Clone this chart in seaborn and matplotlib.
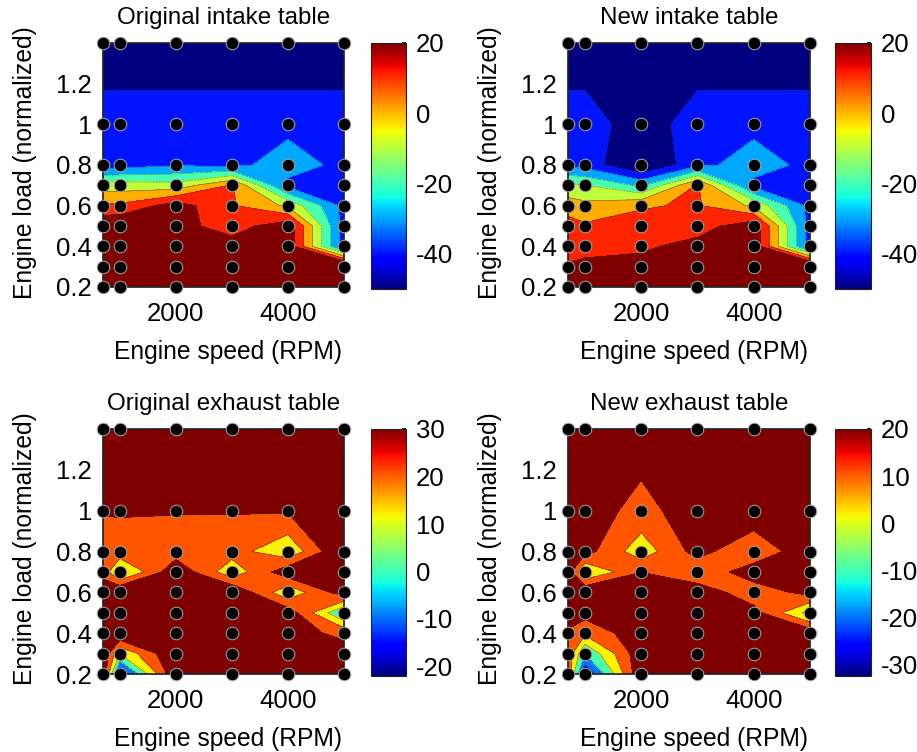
import matplotlib.pyplot as plt
import numpy as np
import pandas as pd
import seaborn as sns
from matplotlib.cm import ScalarMappable
from matplotlib.colors import Normalize

speeds = [700, 1000, 2000, 3000, 4000, 5000]
loads = [1.4, 1.0, 0.8, 0.7, 0.6, 0.5, 0.4, 0.3, 0.2]

# each table reads top row (load 1.4) to bottom row (load 0.2)
intakeOld = [
    [-50, -50, -50, -50, -50, -50],
    [-33, -33, -33, -33, -33, -33],
    [-35, -34.5, -31, -33, -25, -33],
    [-5, -5, -6, 11, -33, -33],
    [11, 12, 25, 11, -2, -33],
    [30, 30, 24, 15, 27, -35],
    [40, 40, 35, 25, 27, -35],
    [40, 40, 40, 40, 40, 40],
    [40, 40, 40, 40, 40, 40],
]
intakeNew = [
    [-50, -50, -50, -50, -50, -50],
    [-33, -33, -48, -33, -33, -33],
    [-33, -34, -52, -33, -25, -33],
    [-7, -10, -22, 11, -33, -33],
    [4.7, 3, 9.2, 11, -2, -33],
    [14.7, 11.4, 13, 15, 27, -35],
    [16, 16, 18, 24, 27, -35],
    [21, 23, 24, 40, 40, 40],
    [40, 40, 40, 40, 40, 40],
]
exhaustOld = [
    [38, 38, 38, 38, 38, 38],
    [30.6, 30.6, 30.6, 30.6, 31, 35],
    [26, 27, 25, 24.3, 12, 41],
    [27, 6, 38, 13, 37, 40],
    [35.6, 42, 40, 40, 12, 36],
    [40, 40, 40, 40, 36, -1],
    [40, 40, 40, 40, 34, 27.5],
    [40, 10.6, 40, 40, 40, 35],
    [40, -19.5, 40, 40, 40, 40],
]
exhaustNew = [
    [30, 30, 25, 30, 30, 30],
    [25, 24.5, 17, 25, 29, 30],
    [30, 24, 4, 24, 10.5, 29],
    [25, -1, 19.5, 11, 27, 30],
    [30, 30, 40, 27, 13, 24],
    [28, 24, 40, 40, 24, -4],
    [18, 12, 27, 40, 40, 27],
    [17, -10, 27.5, 40, 40, 40],
    [18, -31, 29, 40, 40, 40],
]

titles = ["Original intake table", "New intake table", "Original exhaust table", "New exhaust table"]
tables = [intakeOld, intakeNew, exhaustOld, exhaustNew]
levelSets = [
    [-50, -40, -30, -20, -10, 0, 10, 20],
    [-50, -40, -30, -20, -10, 0, 10, 20],
    [-20, -10, 0, 10, 20, 30],
    [-30, -20, -10, 0, 10, 20],
]
colorLimits = [(-50, 20), (-50, 20), (-22, 30), (-32.5, 20)]
# spot on jet for each filled band, picked by eye against the original
intakeBands = [0.0, 0.145, 0.29, 0.435, 0.58, 0.725, 0.87, 1.0]
exhaustBands = [0.05, 0.24, 0.44, 0.655, 0.82, 1.0]
bandSets = [intakeBands, intakeBands, exhaustBands, exhaustBands]
colorTicks = [
    [-40, -20, 0, 20],
    [-40, -20, 0, 20],
    [-20, -10, 0, 10, 20, 30],
    [-30, -20, -10, 0, 10, 20],
]
yTicks = [0.2, 0.4, 0.6, 0.8, 1.0, 1.2]
yTickLabels = ["0.2", "0.4", "0.6", "0.8", "1", "1.2"]
xTicks = [2000, 4000]

FIG_W, FIG_H = 917, 752
# left, top, right, bottom in pixels
axesBoxes = [(103, 43, 344, 287), (568, 43, 810, 287), (103, 429, 344, 674), (568, 429, 810, 674)]
barBoxes = [(371, 43, 406, 289), (835, 43, 871, 289), (371, 429, 406, 676), (835, 429, 871, 676)]

sns.set_theme(style="white")
plt.rcParams["font.family"] = ["Liberation Sans", "DejaVu Sans"]
plt.rcParams["axes.edgecolor"] = "#222222"
plt.rcParams["axes.unicode_minus"] = False
LABEL_FONT = 17.7
TITLE_FONT = 17.4
TICK_FONT = 18.5


def pixelRect(box):
    left, top, right, bottom = box
    return [left / FIG_W, 1 - bottom / FIG_H, (right - left) / FIG_W, (bottom - top) / FIG_H]


def drawPanel(fig, index):
    ax = fig.add_axes(pixelRect(axesBoxes[index]))
    # seaborn refuses to hand out jet, so it comes from matplotlib
    cmap = plt.get_cmap("jet")
    norm = Normalize(*colorLimits[index])
    levels = levelSets[index]
    z = np.array(tables[index], dtype=float)
    # band below a level takes the colour of that level, like the matlab contourf
    edges = [-200] + levels[1:] + [200]
    ax.contourf(speeds, loads, z, levels=edges, colors=[cmap(p) for p in bandSets[index]])
    ax.contour(speeds, loads, z, levels=levels[1:], colors="#333333", linewidths=0.4, alpha=0.7)

    xx, yy = np.meshgrid(speeds, loads)
    points = pd.DataFrame({"speed": xx.ravel(), "load": yy.ravel()})
    sns.scatterplot(
        data=points, x="speed", y="load", ax=ax, color="black", s=82,
        edgecolor="#aaaaaa", linewidth=0.7, clip_on=False, zorder=5, legend=False,
    )

    ax.set_xlim(700, 5000)
    ax.set_ylim(0.2, 1.4)
    ax.set_xticks(xTicks)
    ax.set_yticks(yTicks)
    ax.set_yticklabels(yTickLabels)
    ax.tick_params(labelsize=TICK_FONT, length=3, direction="in", colors="black")
    ax.tick_params(axis="x", pad=11)
    ax.tick_params(axis="y", pad=8)
    ax.set_title(titles[index], fontsize=TITLE_FONT, pad=14, color="black")
    ax.set_xlabel("Engine speed (RPM)", fontsize=LABEL_FONT, labelpad=10, color="black", x=0.52)
    ax.set_ylabel("Engine load (normalized)", fontsize=LABEL_FONT, labelpad=14, color="black", y=0.51)

    cax = fig.add_axes(pixelRect(barBoxes[index]))
    cbar = fig.colorbar(ScalarMappable(norm=norm, cmap=cmap), cax=cax)
    cbar.set_ticks(colorTicks[index])
    cbar.ax.tick_params(labelsize=TICK_FONT, length=3, direction="in", pad=7, colors="black")
    cbar.outline.set_linewidth(0.8)


def main():
    fig = plt.figure(figsize=(FIG_W / 100, FIG_H / 100), dpi=100)
    for index in range(4):
        drawPanel(fig, index)
    fig.savefig("out.png", dpi=100)


if __name__ == "__main__":
    main()
